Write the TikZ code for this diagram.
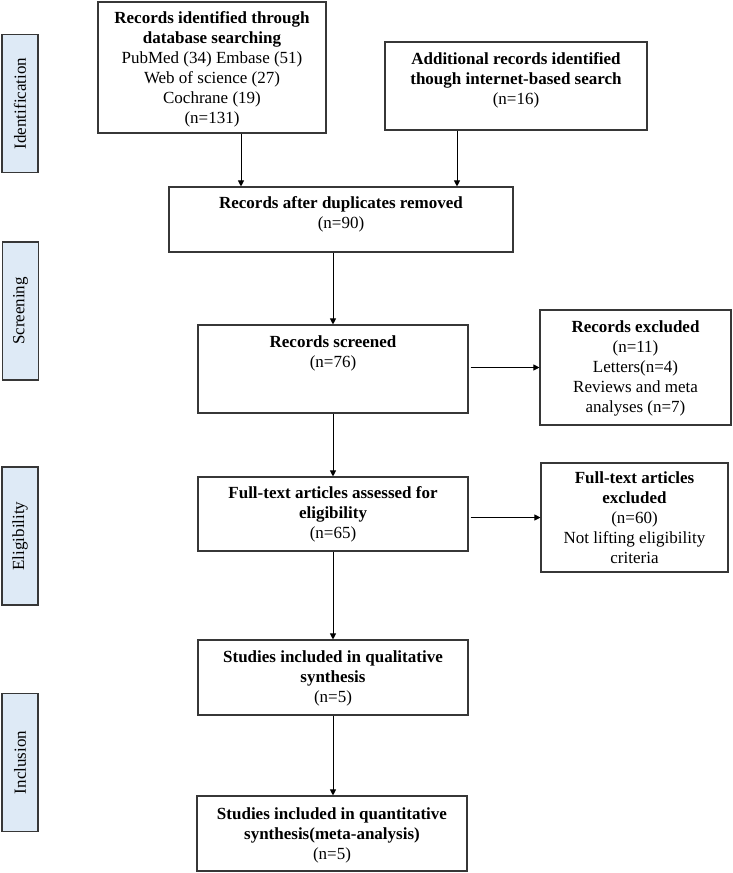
\documentclass[tikz,border=0pt]{standalone}
\usepackage{fontspec}
\setmainfont{Liberation Serif}
\usetikzlibrary{arrows.meta,calc}
\definecolor{sidefill}{RGB}{222,234,246}
\definecolor{edgegray}{RGB}{55,55,55}
\newcommand{\flowtext}[4]{\parbox[c][#2][t]{#1}{\centering\rule{0pt}{#3}#4\par}}
\begin{document}
\begin{tikzpicture}[x=1pt,y=-1pt,
  box/.style={draw=edgegray, line width=1.1pt, inner sep=0pt, font=\fontsize{17pt}{20pt}\selectfont},
  side/.style={draw=edgegray, line width=1.1pt, fill=sidefill, rotate=90, minimum width=138pt, minimum height=36pt, inner sep=0pt, font=\fontsize{17pt}{20pt}\selectfont},
  arr/.style={-{Triangle[length=6pt,width=6pt]}, line width=0.9pt, black}]
\useasboundingbox (0,0) rectangle (733,873);

% stage labels
\node[side] (s1) at (20,103.5) {Identification};
\node[side] (s2) at (20.5,311) {Screening};
\node[side] (s3) at (20,536) {Eligibility};
\node[side] (s4) at (20,762.5) {Inclusion};

% boxes
\node[box] (a) at (212,67.5) {\flowtext{228pt}{131pt}{21pt}{\textbf{Records identified through}\\\textbf{database searching}\\PubMed (34) Embase (51)\\Web of science (27)\\Cochrane (19)\\(n=131)}};
\node[box] (b) at (516,86) {\flowtext{262pt}{88pt}{22pt}{\textbf{Additional records identified}\\\textbf{though internet-based search}\\(n=16)}};
\node[box] (c) at (341,219.5) {\flowtext{344pt}{65pt}{21pt}{\textbf{Records after duplicates removed}\\(n=90)}};
\node[box] (d) at (333,369) {\flowtext{270pt}{88pt}{22pt}{\textbf{Records screened}\\(n=76)}};
\node[box] (e) at (635.5,367.5) {\flowtext{191pt}{115pt}{22pt}{\textbf{Records excluded}\\(n=11)\\Letters(n=4)\\Reviews and meta\\analyses (n=7)}};
\node[box] (f) at (333,514) {\flowtext{270pt}{74pt}{21pt}{\textbf{Full-text articles assessed for}\\\textbf{eligibility}\\(n=65)}};
\node[box] (g) at (634.5,517.5) {\flowtext{187pt}{109pt}{20pt}{\textbf{Full-text articles}\\\textbf{excluded}\\(n=60)\\Not lifting eligibility\\criteria}};
\node[box] (h) at (333,677.5) {\flowtext{270pt}{75pt}{22pt}{\textbf{Studies included in qualitative}\\\textbf{synthesis}\\(n=5)}};
\node[box] (i) at (332,833.5) {\flowtext{270pt}{75pt}{23pt}{\textbf{Studies included in quantitative}\\\textbf{synthesis(meta-analysis)}\\(n=5)}};

% connectors
\draw[arr] ([xshift=29pt]a.south) -- ([xshift=29pt]a.south |- c.north);
\draw[arr] ([xshift=-59pt]b.south) -- ([xshift=-59pt]b.south |- c.north);
\draw[arr] (d.north |- c.south) -- (d.north);
\draw[arr] (d.south) -- (f.north);
\draw[arr] (f.south) -- (h.north);
\draw[arr] (h.south) -- (h.south |- i.north);
\draw[arr] ([xshift=2pt]d.east |- e.west) -- (e.west);
\draw[arr] ([xshift=2pt]f.east |- g.west) -- (g.west);
\end{tikzpicture}
\end{document}
